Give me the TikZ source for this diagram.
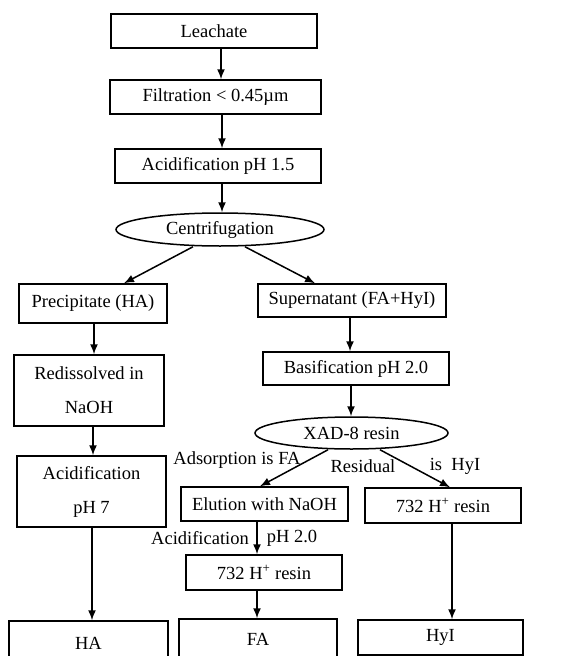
\documentclass[tikz,border=0pt]{standalone}
\usepackage{fontspec}
\setmainfont{Liberation Serif}
\usetikzlibrary{shapes.geometric,arrows.meta}

\begin{document}
\begin{tikzpicture}[x=1pt,y=-1pt,line width=1.5pt,
  every node/.style={font=\fontsize{18.5}{34}\selectfont},
  box/.style={draw,rectangle,inner sep=0,align=center},
  oval/.style={draw,ellipse,inner sep=0},
  arr/.style={-{Latex[length=10pt,width=8pt]}}]
\useasboundingbox(0,0)rectangle(574,656);
% main line
\node[box,minimum width=206,minimum height=34](L)at(214,31){Leachate};
\node[box,minimum width=211,minimum height=34](F)at(215.5,97){Filtration < 0.45µm};
\node[box,minimum width=206,minimum height=34](A)at(218,166){Acidification pH 1.5};
\node[oval,minimum width=208,minimum height=33](C)at(220,229.5){Centrifugation};
% left branch
\node[box,minimum width=148,minimum height=39](P)at(93,303.5){Precipitate (HA)};
\node[box,minimum width=150,minimum height=71](R)at(89,390.5){Redissolved in\\NaOH};
\node[box,minimum width=149,minimum height=71](A7)at(91.5,491.5){Acidification\\pH 7};
\node[box,minimum width=159,minimum height=44](HA)at(88.5,643){HA};
% right branch
\node[box,minimum width=188,minimum height=33](S)at(352,300.5){Supernatant (FA+HyI)};
\node[box,minimum width=186,minimum height=33](B)at(356,368.5){Basification pH 2.0};
\node[oval,minimum width=193,minimum height=32](X)at(351.5,433){XAD-8 resin};
\node[box,minimum width=167,minimum height=34](E)at(264.5,504){Elution with NaOH};
\node[box,minimum width=156,minimum height=35](R2)at(264,572.5){732 H\textsuperscript{+} resin};
\node[box,minimum width=158,minimum height=40](FA)at(258,639){FA};
\node[box,minimum width=156,minimum height=35](R1)at(443,505.5){732 H\textsuperscript{+} resin};
\node[box,minimum width=165,minimum height=35](HyI)at(440.5,637.5){HyI};
% labels
\node(La)at(237,460){Adsorption is FA};
\node(Lr)at(363,466){Residual};
\node(Lh)at(455,466){is\ \ HyI};
\node(Lac)at(200,538){Acidification};
\node(Lph)at(292,538){pH 2.0};
% arrows
\draw[arr]([xshift=7]L.south)--([xshift=5.5]F.north);
\draw[arr]([xshift=6.5]F.south)--([xshift=4]A.north);
\draw[arr]([xshift=4]A.south)--([xshift=2]C.north);
\draw[arr]([xshift=-27]C.south)--([xshift=31]P.north);
\draw[arr]([xshift=25]C.south)--([xshift=-37]S.north);
\draw[arr]([xshift=1]P.south)--([xshift=5]R.north);
\draw[arr]([xshift=4]R.south)--([xshift=1.5]A7.north);
\draw[arr]([xshift=0.5]A7.south)--([xshift=3.5]HA.north);
\draw[arr]([xshift=-2]S.south)--([xshift=-6]B.north);
\draw[arr]([xshift=-5]B.south)--([xshift=-0.5]X.north);
\draw[arr]([xshift=-23.5]X.south)--([xshift=-4.5]E.north);
\draw[arr]([xshift=28.5]X.south)--([xshift=7]R1.north);
\draw[arr]([xshift=-7.5]E.south)--([xshift=-7]R2.north);
\draw[arr]([xshift=-7]R2.south)--([xshift=-1]FA.north);
\draw[arr]([xshift=9]R1.south)--([xshift=11.5]HyI.north);
\end{tikzpicture}
\end{document}
